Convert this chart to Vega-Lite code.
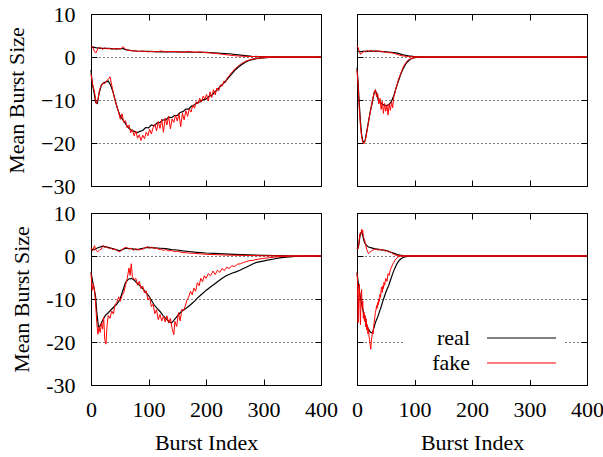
{
"$schema": "https://vega.github.io/schema/vega-lite/v6.json",
"padding": {"left": 5, "top": 2, "right": 5, "bottom": 5},
"background": "#ffffff",
"datasets": {
"tl_real_pos": [{"x":0,"y":2.2},{"x":5,"y":2.3},{"x":10,"y":2.1},{"x":20,"y":2.0},{"x":30,"y":2.0},{"x":40,"y":1.9},{"x":50,"y":1.9},{"x":55,"y":2.0},{"x":60,"y":1.7},{"x":70,"y":1.5},{"x":80,"y":1.4},{"x":100,"y":1.3},{"x":120,"y":1.2},{"x":150,"y":1.2},{"x":180,"y":1.1},{"x":200,"y":1.1},{"x":220,"y":0.9},{"x":240,"y":0.75},{"x":260,"y":0.45},{"x":280,"y":0.15},{"x":300,"y":0.05},{"x":320,"y":0},{"x":400,"y":0}],
"tl_real_neg": [{"x":0,"y":-3},{"x":2,"y":-6},{"x":5,"y":-8},{"x":8,"y":-10.5},{"x":11,"y":-10.8},{"x":14,"y":-8.5},{"x":18,"y":-6.5},{"x":22,"y":-6},{"x":26,"y":-5.8},{"x":30,"y":-5.6},{"x":34,"y":-6.5},{"x":38,"y":-8},{"x":42,"y":-10},{"x":46,"y":-12},{"x":50,"y":-13.5},{"x":55,"y":-14.5},{"x":60,"y":-15.5},{"x":65,"y":-16.5},{"x":70,"y":-17},{"x":75,"y":-17.3},{"x":80,"y":-17.6},{"x":85,"y":-17.3},{"x":90,"y":-17.1},{"x":95,"y":-16.4},{"x":100,"y":-16.5},{"x":105,"y":-15.8},{"x":110,"y":-16},{"x":115,"y":-15.3},{"x":120,"y":-15.2},{"x":125,"y":-14.6},{"x":130,"y":-14.7},{"x":135,"y":-14},{"x":140,"y":-14.1},{"x":145,"y":-13.6},{"x":150,"y":-13.6},{"x":155,"y":-12.9},{"x":160,"y":-12.7},{"x":165,"y":-12.1},{"x":170,"y":-12.1},{"x":175,"y":-11.4},{"x":180,"y":-11.1},{"x":185,"y":-10.6},{"x":190,"y":-10.4},{"x":195,"y":-9.9},{"x":200,"y":-9.8},{"x":205,"y":-9.2},{"x":210,"y":-8.9},{"x":215,"y":-8.2},{"x":220,"y":-7.6},{"x":225,"y":-6.8},{"x":230,"y":-6.2},{"x":235,"y":-5.5},{"x":240,"y":-4.7},{"x":245,"y":-3.9},{"x":250,"y":-3.1},{"x":255,"y":-2.5},{"x":260,"y":-2.0},{"x":265,"y":-1.5},{"x":270,"y":-1.1},{"x":275,"y":-0.8},{"x":280,"y":-0.6},{"x":290,"y":-0.35},{"x":300,"y":-0.2},{"x":310,"y":-0.1},{"x":320,"y":-0.05},{"x":330,"y":0},{"x":400,"y":0}],
"tl_fake_pos": [{"x":0,"y":2.5},{"x":3,"y":2.4},{"x":6,"y":1.2},{"x":9,"y":1.0},{"x":12,"y":2.0},{"x":16,"y":2.2},{"x":20,"y":1.8},{"x":24,"y":2.1},{"x":28,"y":1.9},{"x":32,"y":2.0},{"x":36,"y":1.8},{"x":40,"y":2.0},{"x":44,"y":1.8},{"x":48,"y":2.0},{"x":52,"y":1.9},{"x":56,"y":2.4},{"x":60,"y":1.8},{"x":64,"y":1.6},{"x":70,"y":1.5},{"x":76,"y":1.4},{"x":82,"y":1.3},{"x":90,"y":1.4},{"x":98,"y":1.2},{"x":106,"y":1.3},{"x":114,"y":1.2},{"x":122,"y":1.4},{"x":130,"y":1.2},{"x":140,"y":1.3},{"x":150,"y":1.2},{"x":160,"y":1.1},{"x":170,"y":1.3},{"x":180,"y":1.1},{"x":190,"y":1.2},{"x":200,"y":1.0},{"x":210,"y":0.9},{"x":220,"y":0.8},{"x":230,"y":0.6},{"x":240,"y":0.45},{"x":250,"y":0.3},{"x":260,"y":0.2},{"x":270,"y":0.15},{"x":280,"y":0.1},{"x":300,"y":0.05},{"x":320,"y":0},{"x":400,"y":0}],
"tl_fake_neg": [{"x":0,"y":-4},{"x":3,"y":-6.5},{"x":6,"y":-8},{"x":9,"y":-10.8},{"x":12,"y":-10},{"x":15,"y":-7.5},{"x":18,"y":-6.8},{"x":21,"y":-6},{"x":24,"y":-6.2},{"x":27,"y":-5.5},{"x":30,"y":-5.2},{"x":33,"y":-4.6},{"x":36,"y":-6.5},{"x":39,"y":-8.5},{"x":42,"y":-10.2},{"x":45,"y":-11.5},{"x":48,"y":-12.8},{"x":51,"y":-14.5},{"x":54,"y":-13.2},{"x":57,"y":-15.2},{"x":60,"y":-14.8},{"x":63,"y":-16.5},{"x":66,"y":-15.8},{"x":69,"y":-17.6},{"x":72,"y":-16.9},{"x":75,"y":-18.3},{"x":78,"y":-17.2},{"x":81,"y":-18.9},{"x":84,"y":-18.1},{"x":87,"y":-19.4},{"x":90,"y":-18.2},{"x":93,"y":-19},{"x":96,"y":-17.5},{"x":99,"y":-18.3},{"x":102,"y":-16.8},{"x":105,"y":-17.9},{"x":108,"y":-16.4},{"x":111,"y":-15.6},{"x":114,"y":-17.2},{"x":117,"y":-15},{"x":120,"y":-16.6},{"x":123,"y":-14.5},{"x":126,"y":-17.5},{"x":129,"y":-14.2},{"x":132,"y":-15.8},{"x":135,"y":-13.8},{"x":138,"y":-16.7},{"x":141,"y":-14.4},{"x":144,"y":-15.2},{"x":147,"y":-13.5},{"x":150,"y":-14.9},{"x":153,"y":-13.2},{"x":156,"y":-16.2},{"x":159,"y":-13.1},{"x":162,"y":-14.6},{"x":165,"y":-12.5},{"x":168,"y":-13.8},{"x":171,"y":-12.1},{"x":174,"y":-12.8},{"x":177,"y":-11.2},{"x":180,"y":-11.9},{"x":183,"y":-10.4},{"x":186,"y":-10.9},{"x":189,"y":-9.6},{"x":192,"y":-10.5},{"x":195,"y":-9.1},{"x":198,"y":-9.8},{"x":201,"y":-8.7},{"x":204,"y":-10.2},{"x":207,"y":-8.1},{"x":210,"y":-9.4},{"x":213,"y":-7.6},{"x":216,"y":-8.8},{"x":219,"y":-7.2},{"x":222,"y":-7.9},{"x":225,"y":-6.5},{"x":228,"y":-6.8},{"x":231,"y":-5.6},{"x":234,"y":-5.9},{"x":237,"y":-4.8},{"x":240,"y":-4.5},{"x":243,"y":-3.8},{"x":246,"y":-3.5},{"x":249,"y":-2.9},{"x":252,"y":-2.6},{"x":255,"y":-2.2},{"x":258,"y":-1.9},{"x":262,"y":-1.5},{"x":266,"y":-1.2},{"x":270,"y":-0.9},{"x":275,"y":-0.7},{"x":280,"y":-0.5},{"x":290,"y":-0.3},{"x":300,"y":-0.15},{"x":315,"y":-0.05},{"x":330,"y":0},{"x":400,"y":0}],
"tr_real_pos": [{"x":0,"y":1.4},{"x":5,"y":1.2},{"x":10,"y":1.3},{"x":20,"y":1.3},{"x":30,"y":1.4},{"x":40,"y":1.3},{"x":50,"y":1.2},{"x":60,"y":1.1},{"x":70,"y":0.9},{"x":80,"y":0.5},{"x":90,"y":0.25},{"x":100,"y":0.1},{"x":110,"y":0.03},{"x":120,"y":0},{"x":400,"y":0}],
"tr_real_neg": [{"x":0,"y":-2.5},{"x":2,"y":-6},{"x":4,"y":-11},{"x":6,"y":-15},{"x":8,"y":-18},{"x":10,"y":-19.5},{"x":12,"y":-19.8},{"x":14,"y":-19.5},{"x":16,"y":-18},{"x":18,"y":-16.5},{"x":20,"y":-15},{"x":22,"y":-13.5},{"x":24,"y":-12},{"x":26,"y":-11},{"x":28,"y":-9.5},{"x":30,"y":-8.3},{"x":32,"y":-7.8},{"x":34,"y":-8.5},{"x":36,"y":-9.5},{"x":38,"y":-10.2},{"x":40,"y":-10.5},{"x":44,"y":-11},{"x":48,"y":-11.2},{"x":52,"y":-11.3},{"x":56,"y":-11},{"x":60,"y":-10.3},{"x":64,"y":-9},{"x":68,"y":-7.2},{"x":72,"y":-5.6},{"x":76,"y":-4},{"x":80,"y":-2.8},{"x":84,"y":-1.8},{"x":88,"y":-1.1},{"x":92,"y":-0.6},{"x":96,"y":-0.3},{"x":100,"y":-0.15},{"x":110,"y":-0.05},{"x":120,"y":0},{"x":400,"y":0}],
"tr_fake_pos": [{"x":0,"y":2.6},{"x":2,"y":2.2},{"x":4,"y":1.3},{"x":6,"y":0.6},{"x":8,"y":0.9},{"x":10,"y":1.0},{"x":12,"y":1.4},{"x":15,"y":1.2},{"x":18,"y":1.5},{"x":21,"y":1.3},{"x":24,"y":1.6},{"x":27,"y":1.4},{"x":30,"y":1.2},{"x":33,"y":1.5},{"x":36,"y":1.3},{"x":39,"y":1.4},{"x":42,"y":1.2},{"x":45,"y":1.3},{"x":48,"y":1.1},{"x":51,"y":1.2},{"x":54,"y":1.0},{"x":58,"y":1.0},{"x":62,"y":0.9},{"x":66,"y":0.8},{"x":70,"y":0.6},{"x":74,"y":0.4},{"x":78,"y":0.3},{"x":82,"y":0.2},{"x":86,"y":0.15},{"x":90,"y":0.1},{"x":100,"y":0.05},{"x":110,"y":0},{"x":400,"y":0}],
"tr_fake_neg": [{"x":0,"y":-3},{"x":2,"y":-7},{"x":4,"y":-12},{"x":6,"y":-16},{"x":8,"y":-18.5},{"x":10,"y":-19.9},{"x":12,"y":-20.2},{"x":14,"y":-19.6},{"x":16,"y":-18.4},{"x":18,"y":-16.8},{"x":20,"y":-15.2},{"x":22,"y":-13.6},{"x":24,"y":-12.3},{"x":26,"y":-10.5},{"x":28,"y":-9.4},{"x":30,"y":-8.1},{"x":32,"y":-7.6},{"x":34,"y":-9.3},{"x":36,"y":-8.5},{"x":38,"y":-10.9},{"x":40,"y":-9.6},{"x":42,"y":-12.2},{"x":44,"y":-10.3},{"x":46,"y":-13.1},{"x":48,"y":-10.8},{"x":50,"y":-12.6},{"x":52,"y":-11.2},{"x":54,"y":-13.5},{"x":56,"y":-10.9},{"x":58,"y":-12.4},{"x":60,"y":-10.5},{"x":62,"y":-11.8},{"x":64,"y":-9.2},{"x":66,"y":-8.4},{"x":68,"y":-7.1},{"x":70,"y":-6.3},{"x":72,"y":-5.2},{"x":74,"y":-4.6},{"x":76,"y":-3.9},{"x":78,"y":-3.1},{"x":80,"y":-2.4},{"x":84,"y":-1.5},{"x":88,"y":-0.8},{"x":92,"y":-0.5},{"x":96,"y":-0.3},{"x":100,"y":-0.15},{"x":110,"y":-0.05},{"x":120,"y":0},{"x":400,"y":0}],
"bl_real_pos": [{"x":0,"y":1.6},{"x":5,"y":1.5},{"x":10,"y":1.8},{"x":20,"y":2.3},{"x":30,"y":2.0},{"x":40,"y":1.6},{"x":50,"y":1.2},{"x":60,"y":1.8},{"x":70,"y":1.7},{"x":80,"y":1.5},{"x":90,"y":1.8},{"x":100,"y":2.0},{"x":110,"y":1.9},{"x":120,"y":1.8},{"x":130,"y":1.7},{"x":140,"y":1.5},{"x":150,"y":1.4},{"x":160,"y":1.2},{"x":170,"y":1.05},{"x":180,"y":0.9},{"x":190,"y":0.8},{"x":200,"y":0.7},{"x":215,"y":0.6},{"x":230,"y":0.5},{"x":260,"y":0.3},{"x":300,"y":0.15},{"x":340,"y":0.05},{"x":360,"y":0},{"x":400,"y":0}],
"bl_real_neg": [{"x":0,"y":-3.8},{"x":3,"y":-6},{"x":6,"y":-8},{"x":8,"y":-9.5},{"x":10,"y":-13},{"x":13,"y":-16.5},{"x":16,"y":-16.2},{"x":20,"y":-15},{"x":25,"y":-13.8},{"x":30,"y":-13.2},{"x":35,"y":-12.5},{"x":40,"y":-11.8},{"x":45,"y":-11.2},{"x":50,"y":-10.2},{"x":55,"y":-8.2},{"x":60,"y":-6.2},{"x":65,"y":-5.4},{"x":70,"y":-5.2},{"x":75,"y":-5.6},{"x":80,"y":-6.3},{"x":85,"y":-6.9},{"x":90,"y":-7.6},{"x":95,"y":-8.4},{"x":100,"y":-9.2},{"x":105,"y":-10.3},{"x":110,"y":-11.4},{"x":115,"y":-12.2},{"x":120,"y":-12.9},{"x":125,"y":-13.8},{"x":130,"y":-14.5},{"x":135,"y":-15.2},{"x":140,"y":-15.6},{"x":145,"y":-14.8},{"x":150,"y":-14.0},{"x":155,"y":-13.2},{"x":160,"y":-12.6},{"x":165,"y":-12.2},{"x":170,"y":-11.7},{"x":175,"y":-11.1},{"x":180,"y":-10.5},{"x":185,"y":-9.8},{"x":190,"y":-9.2},{"x":195,"y":-8.6},{"x":200,"y":-8.0},{"x":205,"y":-7.5},{"x":210,"y":-7.0},{"x":215,"y":-6.5},{"x":220,"y":-6.0},{"x":227,"y":-5.3},{"x":235,"y":-4.6},{"x":245,"y":-4.0},{"x":252,"y":-3.7},{"x":259,"y":-3.3},{"x":265,"y":-2.9},{"x":270,"y":-2.6},{"x":276,"y":-2.2},{"x":282,"y":-1.8},{"x":288,"y":-1.5},{"x":295,"y":-1.3},{"x":305,"y":-1.0},{"x":318,"y":-0.7},{"x":328,"y":-0.45},{"x":340,"y":-0.25},{"x":355,"y":-0.1},{"x":370,"y":0},{"x":400,"y":0}],
"bl_fake_pos": [{"x":0,"y":1.8},{"x":3,"y":1.2},{"x":6,"y":2.4},{"x":9,"y":1.3},{"x":12,"y":1.0},{"x":15,"y":1.4},{"x":18,"y":1.6},{"x":21,"y":2.4},{"x":24,"y":2.0},{"x":27,"y":2.2},{"x":30,"y":1.8},{"x":34,"y":1.9},{"x":38,"y":1.5},{"x":42,"y":1.6},{"x":46,"y":1.2},{"x":50,"y":1.0},{"x":54,"y":1.5},{"x":58,"y":1.9},{"x":62,"y":2.0},{"x":66,"y":1.6},{"x":70,"y":1.8},{"x":74,"y":1.3},{"x":78,"y":1.7},{"x":82,"y":1.4},{"x":86,"y":1.5},{"x":90,"y":1.6},{"x":94,"y":1.9},{"x":98,"y":2.2},{"x":102,"y":1.8},{"x":106,"y":2.1},{"x":110,"y":1.7},{"x":114,"y":1.9},{"x":118,"y":1.5},{"x":122,"y":1.6},{"x":126,"y":1.3},{"x":130,"y":1.5},{"x":135,"y":1.2},{"x":140,"y":1.3},{"x":145,"y":1.0},{"x":150,"y":1.1},{"x":160,"y":0.8},{"x":170,"y":0.7},{"x":180,"y":0.6},{"x":190,"y":0.5},{"x":200,"y":0.4},{"x":220,"y":0.3},{"x":240,"y":0.2},{"x":260,"y":0.15},{"x":280,"y":0.1},{"x":300,"y":0.05},{"x":320,"y":0.05},{"x":340,"y":0},{"x":400,"y":0}],
"bl_fake_neg": [{"x":0,"y":-4},{"x":2,"y":-8},{"x":4,"y":-6.5},{"x":6,"y":-7.8},{"x":8,"y":-11},{"x":10,"y":-15.5},{"x":12,"y":-18.2},{"x":14,"y":-16.5},{"x":16,"y":-17.8},{"x":18,"y":-15.6},{"x":20,"y":-17},{"x":22,"y":-14.2},{"x":24,"y":-19.5},{"x":26,"y":-20.5},{"x":28,"y":-16},{"x":30,"y":-13.8},{"x":33,"y":-14.5},{"x":36,"y":-12.8},{"x":39,"y":-13.5},{"x":42,"y":-11.2},{"x":45,"y":-10.8},{"x":48,"y":-9.5},{"x":51,"y":-10.5},{"x":54,"y":-9.2},{"x":57,"y":-8.5},{"x":60,"y":-6.8},{"x":63,"y":-5.2},{"x":66,"y":-2.8},{"x":68,"y":-4.5},{"x":70,"y":-1.8},{"x":72,"y":-4.8},{"x":75,"y":-5.5},{"x":78,"y":-5.2},{"x":81,"y":-6.8},{"x":84,"y":-5.9},{"x":87,"y":-7.6},{"x":90,"y":-7},{"x":93,"y":-8.6},{"x":96,"y":-8.1},{"x":99,"y":-10.2},{"x":102,"y":-9.6},{"x":105,"y":-11.8},{"x":108,"y":-11.2},{"x":111,"y":-13.4},{"x":114,"y":-12.5},{"x":117,"y":-14.8},{"x":120,"y":-13.6},{"x":123,"y":-15.1},{"x":126,"y":-14},{"x":129,"y":-15.3},{"x":132,"y":-13.9},{"x":135,"y":-15.6},{"x":138,"y":-14.5},{"x":141,"y":-16.8},{"x":144,"y":-18.3},{"x":146,"y":-15.2},{"x":149,"y":-16.4},{"x":152,"y":-13.2},{"x":155,"y":-15.1},{"x":158,"y":-12.4},{"x":161,"y":-12.8},{"x":164,"y":-11.6},{"x":167,"y":-10.2},{"x":170,"y":-9.5},{"x":173,"y":-8.2},{"x":176,"y":-9},{"x":179,"y":-7.5},{"x":182,"y":-8.2},{"x":185,"y":-6.2},{"x":188,"y":-6.9},{"x":191,"y":-5.2},{"x":194,"y":-6},{"x":197,"y":-4.6},{"x":200,"y":-5.2},{"x":204,"y":-4.1},{"x":208,"y":-4.6},{"x":212,"y":-3.5},{"x":216,"y":-4.3},{"x":220,"y":-3.3},{"x":224,"y":-3.8},{"x":228,"y":-2.9},{"x":232,"y":-3.4},{"x":236,"y":-2.6},{"x":240,"y":-2.9},{"x":245,"y":-2.3},{"x":250,"y":-2.4},{"x":255,"y":-1.9},{"x":260,"y":-1.8},{"x":265,"y":-1.5},{"x":270,"y":-1.3},{"x":275,"y":-1.1},{"x":282,"y":-1.0},{"x":290,"y":-0.75},{"x":300,"y":-0.55},{"x":310,"y":-0.4},{"x":320,"y":-0.25},{"x":330,"y":-0.15},{"x":345,"y":-0.05},{"x":360,"y":0},{"x":400,"y":0}],
"br_real_pos": [{"x":0,"y":1.6},{"x":2,"y":1.8},{"x":4,"y":3.5},{"x":6,"y":5.3},{"x":8,"y":5.6},{"x":10,"y":4.8},{"x":12,"y":3.6},{"x":14,"y":2.9},{"x":17,"y":2.4},{"x":20,"y":2.1},{"x":25,"y":1.9},{"x":30,"y":1.7},{"x":35,"y":1.6},{"x":40,"y":1.5},{"x":45,"y":1.4},{"x":50,"y":1.3},{"x":55,"y":1.1},{"x":60,"y":0.8},{"x":65,"y":0.6},{"x":70,"y":0.35},{"x":75,"y":0.2},{"x":80,"y":0.1},{"x":85,"y":0.05},{"x":90,"y":0},{"x":400,"y":0}],
"br_real_neg": [{"x":0,"y":-3.8},{"x":2,"y":-6},{"x":4,"y":-8},{"x":6,"y":-9.8},{"x":8,"y":-11},{"x":10,"y":-12.3},{"x":12,"y":-13.6},{"x":14,"y":-14.7},{"x":16,"y":-15.6},{"x":18,"y":-16.4},{"x":20,"y":-17},{"x":22,"y":-17.5},{"x":24,"y":-17.8},{"x":26,"y":-17.9},{"x":28,"y":-17.3},{"x":30,"y":-16.5},{"x":32,"y":-15.5},{"x":34,"y":-14.8},{"x":36,"y":-14.2},{"x":38,"y":-13.4},{"x":40,"y":-12.6},{"x":42,"y":-11.8},{"x":44,"y":-10.9},{"x":46,"y":-10.1},{"x":48,"y":-9.3},{"x":50,"y":-8.5},{"x":52,"y":-7.8},{"x":55,"y":-6.9},{"x":58,"y":-5.7},{"x":61,"y":-4.5},{"x":64,"y":-3.4},{"x":67,"y":-2.5},{"x":70,"y":-1.7},{"x":73,"y":-1.1},{"x":76,"y":-0.7},{"x":80,"y":-0.35},{"x":85,"y":-0.15},{"x":90,"y":-0.05},{"x":100,"y":0},{"x":400,"y":0}],
"br_fake_pos": [{"x":0,"y":1.8},{"x":1,"y":1.6},{"x":3,"y":2.5},{"x":5,"y":5.2},{"x":7,"y":5.0},{"x":8,"y":6.2},{"x":9,"y":5.6},{"x":10,"y":6.0},{"x":11,"y":4.5},{"x":13,"y":3.8},{"x":15,"y":2.6},{"x":17,"y":1.5},{"x":19,"y":0.8},{"x":21,"y":0.6},{"x":23,"y":0.9},{"x":25,"y":1.2},{"x":28,"y":1.4},{"x":31,"y":1.6},{"x":34,"y":1.5},{"x":37,"y":1.4},{"x":40,"y":1.6},{"x":43,"y":1.3},{"x":46,"y":1.5},{"x":49,"y":1.1},{"x":52,"y":1.3},{"x":55,"y":0.9},{"x":58,"y":1.0},{"x":61,"y":0.6},{"x":64,"y":0.4},{"x":67,"y":0.2},{"x":70,"y":0.1},{"x":73,"y":0.15},{"x":76,"y":0.05},{"x":80,"y":0},{"x":400,"y":0}],
"br_fake_neg": [{"x":0,"y":-4},{"x":1,"y":-6},{"x":2,"y":-15.5},{"x":3,"y":-9},{"x":4,"y":-6.5},{"x":5,"y":-11},{"x":6,"y":-16},{"x":7,"y":-9.5},{"x":8,"y":-7.8},{"x":9,"y":-12},{"x":10,"y":-10.5},{"x":11,"y":-14.5},{"x":12,"y":-13},{"x":13,"y":-15.2},{"x":14,"y":-13.8},{"x":15,"y":-16.5},{"x":16,"y":-14.6},{"x":17,"y":-17.2},{"x":18,"y":-16},{"x":19,"y":-18.1},{"x":20,"y":-16.8},{"x":21,"y":-18.8},{"x":22,"y":-19.5},{"x":23,"y":-20.8},{"x":24,"y":-21.7},{"x":25,"y":-19.6},{"x":26,"y":-18.8},{"x":27,"y":-17.5},{"x":28,"y":-18.1},{"x":29,"y":-16.4},{"x":30,"y":-15.2},{"x":31,"y":-14.3},{"x":32,"y":-13.1},{"x":33,"y":-12.6},{"x":34,"y":-11.5},{"x":35,"y":-12.2},{"x":36,"y":-10.8},{"x":37,"y":-11.4},{"x":38,"y":-9.9},{"x":39,"y":-10.6},{"x":40,"y":-8.9},{"x":41,"y":-9.6},{"x":42,"y":-7.8},{"x":43,"y":-7.2},{"x":44,"y":-8.5},{"x":45,"y":-6.9},{"x":46,"y":-7.6},{"x":47,"y":-6.1},{"x":48,"y":-6.8},{"x":50,"y":-5.2},{"x":52,"y":-5.9},{"x":54,"y":-4.1},{"x":56,"y":-4.5},{"x":58,"y":-3.2},{"x":60,"y":-2.6},{"x":62,"y":-1.9},{"x":64,"y":-1.5},{"x":66,"y":-1.0},{"x":68,"y":-0.7},{"x":70,"y":-0.4},{"x":72,"y":-0.2},{"x":76,"y":-0.05},{"x":80,"y":0},{"x":400,"y":0}]
},
"columns": 2,
"spacing": {"row": 27, "column": 36},
"bounds": "flush",
"resolve": {"legend": {"color": "independent"}},
"concat": [
{
"width": 230, "height": 172,
"resolve": {"axis": {"x": "independent", "y": "independent"}},
"layer": [
{"data": {"name": "tl_real_pos"}, "mark": {"type": "line", "strokeWidth": 1.2},
 "encoding": {
  "x": {"field": "x", "type": "quantitative", "scale": {"domain": [0, 400], "nice": false, "zero": false}, "axis": {"orient": "bottom", "offset": -6, "ticks": true, "tickSize": 6, "tickWidth": 1, "tickColor": "#000000", "values": [0, 100, 200, 300, 400], "labels": false, "title": null}},
  "y": {"field": "y", "type": "quantitative", "scale": {"domain": [-30, 10], "nice": false, "zero": false}, "axis": {"orient": "left", "offset": -6, "ticks": true, "tickSize": 6, "tickWidth": 1, "tickColor": "#000000", "values": [10, 0, -10, -20, -30], "title": "Mean Burst Size"}},
  "color": {"datum": "real", "type": "nominal", "scale": {"domain": ["real", "fake"], "range": ["#000000", "#ff0000"]}, "legend": null}}},
{"data": {"name": "tl_real_neg"}, "mark": {"type": "line", "strokeWidth": 1.2},
 "encoding": {
  "x": {"field": "x", "type": "quantitative", "axis": null},
  "y": {"field": "y", "type": "quantitative", "axis": {"orient": "left", "values": [10, 0, -10, -20, -30], "grid": true, "gridDash": [1, 3], "gridColor": "#000000", "ticks": false, "labels": false, "title": null}},
  "color": {"datum": "real", "type": "nominal", "legend": null}}},
{"data": {"name": "tl_fake_pos"}, "mark": {"type": "line", "strokeWidth": 1},
 "encoding": {
  "x": {"field": "x", "type": "quantitative", "axis": {"orient": "top", "offset": -6, "ticks": true, "tickSize": 6, "tickWidth": 1, "tickColor": "#000000", "values": [0, 100, 200, 300, 400], "labels": false, "title": null}},
  "y": {"field": "y", "type": "quantitative", "axis": {"orient": "right", "offset": -6, "ticks": true, "tickSize": 6, "tickWidth": 1, "tickColor": "#000000", "values": [10, 0, -10, -20, -30], "labels": false, "title": null}},
  "color": {"datum": "fake", "type": "nominal", "legend": null}}},
{"data": {"name": "tl_fake_neg"}, "mark": {"type": "line", "strokeWidth": 1},
 "encoding": {
  "x": {"field": "x", "type": "quantitative", "axis": null},
  "y": {"field": "y", "type": "quantitative", "axis": null},
  "color": {"datum": "fake", "type": "nominal", "legend": null}}}
]
},
{
"width": 230, "height": 172,
"resolve": {"axis": {"x": "independent", "y": "independent"}},
"layer": [
{"data": {"name": "tr_real_pos"}, "mark": {"type": "line", "strokeWidth": 1.2},
 "encoding": {
  "x": {"field": "x", "type": "quantitative", "scale": {"domain": [0, 400], "nice": false, "zero": false}, "axis": {"orient": "bottom", "offset": -6, "ticks": true, "tickSize": 6, "tickWidth": 1, "tickColor": "#000000", "values": [0, 100, 200, 300, 400], "labels": false, "title": null}},
  "y": {"field": "y", "type": "quantitative", "scale": {"domain": [-30, 10], "nice": false, "zero": false}, "axis": {"orient": "left", "offset": -6, "ticks": true, "tickSize": 6, "tickWidth": 1, "tickColor": "#000000", "values": [10, 0, -10, -20, -30], "labels": false, "title": null}},
  "color": {"datum": "real", "type": "nominal", "scale": {"domain": ["real", "fake"], "range": ["#000000", "#ff0000"]}, "legend": null}}},
{"data": {"name": "tr_real_neg"}, "mark": {"type": "line", "strokeWidth": 1.2},
 "encoding": {
  "x": {"field": "x", "type": "quantitative", "axis": null},
  "y": {"field": "y", "type": "quantitative", "axis": {"orient": "left", "values": [10, 0, -10, -20, -30], "grid": true, "gridDash": [1, 3], "gridColor": "#000000", "ticks": false, "labels": false, "title": null}},
  "color": {"datum": "real", "type": "nominal", "legend": null}}},
{"data": {"name": "tr_fake_pos"}, "mark": {"type": "line", "strokeWidth": 1},
 "encoding": {
  "x": {"field": "x", "type": "quantitative", "axis": {"orient": "top", "offset": -6, "ticks": true, "tickSize": 6, "tickWidth": 1, "tickColor": "#000000", "values": [0, 100, 200, 300, 400], "labels": false, "title": null}},
  "y": {"field": "y", "type": "quantitative", "axis": {"orient": "right", "offset": -6, "ticks": true, "tickSize": 6, "tickWidth": 1, "tickColor": "#000000", "values": [10, 0, -10, -20, -30], "labels": false, "title": null}},
  "color": {"datum": "fake", "type": "nominal", "legend": null}}},
{"data": {"name": "tr_fake_neg"}, "mark": {"type": "line", "strokeWidth": 1},
 "encoding": {
  "x": {"field": "x", "type": "quantitative", "axis": null},
  "y": {"field": "y", "type": "quantitative", "axis": null},
  "color": {"datum": "fake", "type": "nominal", "legend": null}}}
]
},
{
"width": 230, "height": 172,
"resolve": {"axis": {"x": "independent", "y": "independent"}},
"layer": [
{"data": {"name": "bl_real_pos"}, "mark": {"type": "line", "strokeWidth": 1.2},
 "encoding": {
  "x": {"field": "x", "type": "quantitative", "scale": {"domain": [0, 400], "nice": false, "zero": false}, "axis": {"orient": "bottom", "offset": -6, "ticks": true, "tickSize": 6, "tickWidth": 1, "tickColor": "#000000", "labelPadding": 14, "values": [0, 100, 200, 300, 400], "title": "Burst Index"}},
  "y": {"field": "y", "type": "quantitative", "scale": {"domain": [-30, 10], "nice": false, "zero": false}, "axis": {"orient": "left", "offset": -6, "ticks": true, "tickSize": 6, "tickWidth": 1, "tickColor": "#000000", "values": [10, 0, -10, -20, -30], "title": "Mean Burst Size", "labelExpr": "datum.value < 0 ? '-' + (-datum.value) : datum.label"}},
  "color": {"datum": "real", "type": "nominal", "scale": {"domain": ["real", "fake"], "range": ["#000000", "#ff0000"]}, "legend": null}}},
{"data": {"name": "bl_real_neg"}, "mark": {"type": "line", "strokeWidth": 1.2},
 "encoding": {
  "x": {"field": "x", "type": "quantitative", "axis": null},
  "y": {"field": "y", "type": "quantitative", "axis": {"orient": "left", "values": [10, 0, -10, -20, -30], "grid": true, "gridDash": [1, 3], "gridColor": "#000000", "ticks": false, "labels": false, "title": null}},
  "color": {"datum": "real", "type": "nominal", "legend": null}}},
{"data": {"name": "bl_fake_pos"}, "mark": {"type": "line", "strokeWidth": 1},
 "encoding": {
  "x": {"field": "x", "type": "quantitative", "axis": {"orient": "top", "offset": -6, "ticks": true, "tickSize": 6, "tickWidth": 1, "tickColor": "#000000", "values": [0, 100, 200, 300, 400], "labels": false, "title": null}},
  "y": {"field": "y", "type": "quantitative", "axis": {"orient": "right", "offset": -6, "ticks": true, "tickSize": 6, "tickWidth": 1, "tickColor": "#000000", "values": [10, 0, -10, -20, -30], "labels": false, "title": null}},
  "color": {"datum": "fake", "type": "nominal", "legend": null}}},
{"data": {"name": "bl_fake_neg"}, "mark": {"type": "line", "strokeWidth": 1},
 "encoding": {
  "x": {"field": "x", "type": "quantitative", "axis": null},
  "y": {"field": "y", "type": "quantitative", "axis": null},
  "color": {"datum": "fake", "type": "nominal", "legend": null}}}
]
},
{
"width": 230, "height": 172,
"resolve": {"axis": {"x": "independent", "y": "independent"}},
"layer": [
{"data": {"name": "br_real_pos"}, "mark": {"type": "line", "strokeWidth": 1.2},
 "encoding": {
  "x": {"field": "x", "type": "quantitative", "scale": {"domain": [0, 400], "nice": false, "zero": false}, "axis": {"orient": "bottom", "offset": -6, "ticks": true, "tickSize": 6, "tickWidth": 1, "tickColor": "#000000", "labelPadding": 14, "values": [0, 100, 200, 300, 400], "title": "Burst Index"}},
  "y": {"field": "y", "type": "quantitative", "scale": {"domain": [-30, 10], "nice": false, "zero": false}, "axis": {"orient": "left", "offset": -6, "ticks": true, "tickSize": 6, "tickWidth": 1, "tickColor": "#000000", "values": [10, 0, -10, -20, -30], "labels": false, "title": null}},
  "color": {"datum": "real", "type": "nominal", "scale": {"domain": ["real", "fake"], "range": ["#000000", "#ff0000"]},
   "legend": {"orient": "none", "legendX": 46, "legendY": 108, "title": null, "symbolType": "M 13.4 0 L 27.2 0", "symbolSize": 100, "symbolStrokeWidth": 1, "labelFont": "Liberation Serif", "labelFontSize": 22, "labelColor": "#000000", "labelAlign": "right", "labelOffset": 39, "rowPadding": 3, "fillColor": "#ffffff", "padding": 6, "direction": "vertical"}}}},
{"data": {"name": "br_real_neg"}, "mark": {"type": "line", "strokeWidth": 1.2},
 "encoding": {
  "x": {"field": "x", "type": "quantitative", "axis": null},
  "y": {"field": "y", "type": "quantitative", "axis": {"orient": "left", "values": [10, 0, -10, -20, -30], "grid": true, "gridDash": [1, 3], "gridColor": "#000000", "ticks": false, "labels": false, "title": null}},
  "color": {"datum": "real", "type": "nominal"}}},
{"data": {"name": "br_fake_pos"}, "mark": {"type": "line", "strokeWidth": 1},
 "encoding": {
  "x": {"field": "x", "type": "quantitative", "axis": {"orient": "top", "offset": -6, "ticks": true, "tickSize": 6, "tickWidth": 1, "tickColor": "#000000", "values": [0, 100, 200, 300, 400], "labels": false, "title": null}},
  "y": {"field": "y", "type": "quantitative", "axis": {"orient": "right", "offset": -6, "ticks": true, "tickSize": 6, "tickWidth": 1, "tickColor": "#000000", "values": [10, 0, -10, -20, -30], "labels": false, "title": null}},
  "color": {"datum": "fake", "type": "nominal"}}},
{"data": {"name": "br_fake_neg"}, "mark": {"type": "line", "strokeWidth": 1},
 "encoding": {
  "x": {"field": "x", "type": "quantitative", "axis": null},
  "y": {"field": "y", "type": "quantitative", "axis": null},
  "color": {"datum": "fake", "type": "nominal"}}}
]
}
],
"config": {
 "font": "Liberation Serif",
 "view": {"stroke": "#000000", "strokeWidth": 1},
 "axis": {"labelFont": "Liberation Serif", "labelFontSize": 22, "labelColor": "#000000", "titleFont": "Liberation Serif", "titleFontSize": 22, "titleFontWeight": "normal", "titleColor": "#000000", "domain": false, "labelFlush": false, "labelOverlap": false, "grid": false, "gridWidth": 1, "gridOpacity": 1, "labelPadding": 16, "titlePadding": 12}
}
}
